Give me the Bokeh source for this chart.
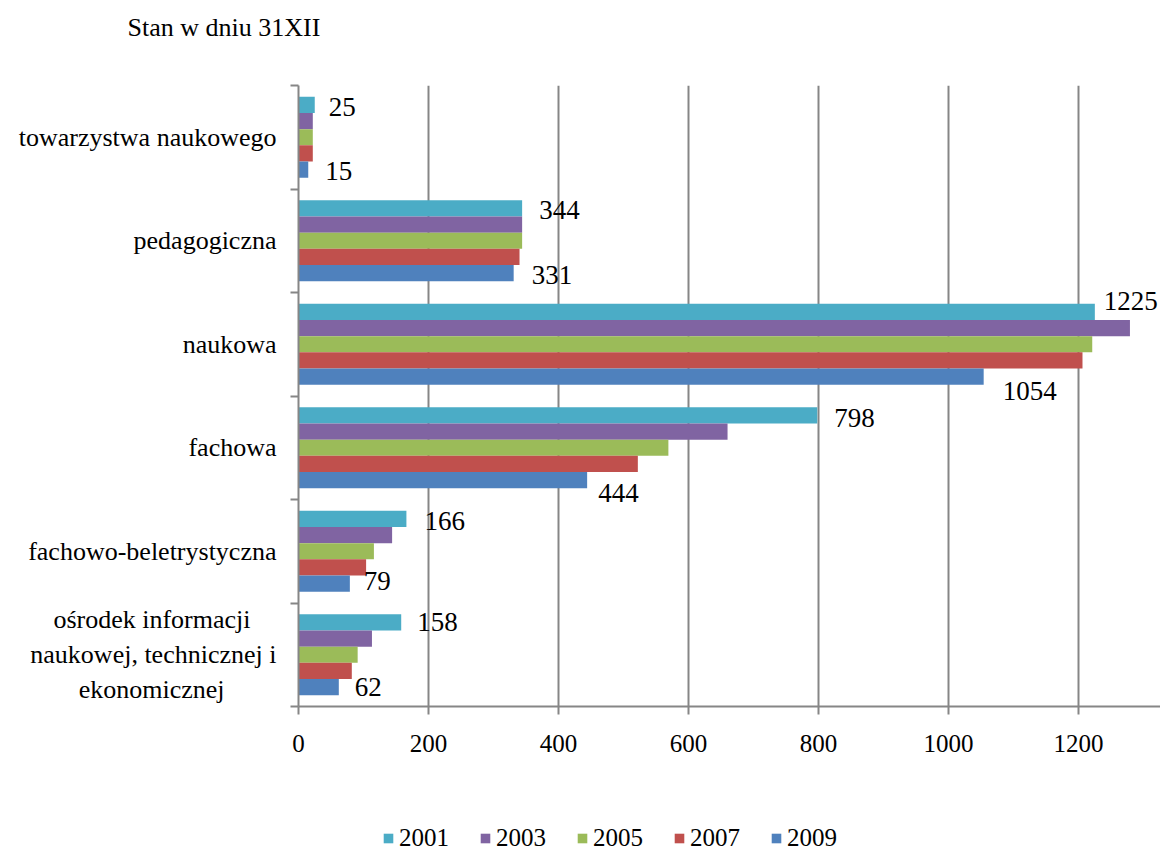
from bokeh.plotting import figure
from bokeh.layouts import column
from bokeh.models import (Range1d, Legend, LegendItem, FixedTicker,
                          ColumnDataSource, LinearAxis, Title)
from bokeh.core.properties import value
from bokeh.embed import file_html
from bokeh.resources import INLINE

NB = "\u00a0"
# ---- data (bottom category first) ----
categories = [
    "ośrodek informacji" + NB * 4 + "\nnaukowej, technicznej i\nekonomicznej" + NB * 8,
    "fachowo-beletrystyczna",
    "fachowa",
    "naukowa",
    "pedagogiczna",
    "towarzystwa naukowego",
]
years = ["2001", "2003", "2005", "2007", "2009"]
v2001 = [158, 166, 798, 1225, 344, 25]
v2003 = [113, 144, 660, 1279, 344, 22]
v2005 = [91, 116, 569, 1221, 344, 22]
v2007 = [82, 104, 522, 1206, 340, 22]
v2009 = [62, 79, 444, 1054, 331, 15]
series = [v2001, v2003, v2005, v2007, v2009]
x_ticks = [0, 200, 400, 600, 800, 1000, 1200]
title_text = "Stan w dniu 31XII"

# ---- styles ----
colors = ["#4BACC6", "#8064A2", "#9BBB59", "#C0504D", "#4F81BD"]
FONT = "Liberation Serif"
bar_h = 0.157
offsets = [2 * bar_h, bar_h, 0.0, -bar_h, -2 * bar_h]
lab2001_dx = [16, 18, 17, 9, 17, 14]
lab2001_dy = [0, 2, 3, -11, 2, 2]
lab2009_dx = [16, 14, 11, 19, 18, 17]
lab2009_dy = [0, -3, 13, 14, 2, 1]
grey = "#868686"

n = len(categories)
p = figure(width=1160, height=796, output_backend="svg", toolbar_location=None,
           x_range=Range1d(0, 1326), y_range=Range1d(0, n),
           min_border_left=298, min_border_right=0, min_border_top=85,
           min_border_bottom=90)
p.outline_line_color = None
p.background_fill_color = "white"

# real title (outer) and a blank spacer title between it and the frame
p.title.text = title_text
p.title.align = "left"
p.title.offset = -171
p.title.text_font = FONT
p.title.text_font_size = "26px"
p.title.text_font_style = "normal"
p.title.text_color = "black"
p.add_layout(Title(text=NB, text_font_size="24px"), "above")

ticker = FixedTicker(ticks=x_ticks)
p.xaxis.ticker = ticker
p.xgrid.ticker = ticker
p.xgrid.grid_line_color = grey
p.xgrid.grid_line_width = 2
p.ygrid.grid_line_color = None

xa = p.xaxis[0]
xa.axis_line_color = grey
xa.axis_line_width = 2
xa.major_tick_line_color = grey
xa.major_tick_line_width = 2
xa.major_tick_out = 8
xa.major_tick_in = 0
xa.minor_tick_line_color = None
xa.major_label_text_font = FONT
xa.major_label_text_font_size = "25px"
xa.major_label_text_color = "black"
xa.major_label_standoff = 20

bounds = list(range(n + 1))
ya = p.yaxis[0]
ya.ticker = FixedTicker(ticks=bounds)
ya.major_label_overrides = {b: "" for b in bounds}
ya.axis_line_color = grey
ya.axis_line_width = 2
ya.major_tick_line_color = grey
ya.major_tick_line_width = 2
ya.major_tick_out = 8
ya.major_tick_in = 0
ya.minor_tick_line_color = None
ya.major_label_standoff = 0

# category labels on their own axis (ticks at category centres)
centres = [i + 0.5 for i in range(n)]
ca = LinearAxis(ticker=FixedTicker(ticks=centres),
                major_label_overrides={c: name for c, name in zip(centres, categories)})
ca.axis_line_color = None
ca.major_tick_line_color = None
ca.minor_tick_line_color = None
ca.major_label_text_font = FONT
ca.major_label_text_font_size = "26px"
ca.major_label_text_color = "black"
ca.major_label_standoff = 8
p.add_layout(ca, "left")

renderers = []
for k, (yr, vals) in enumerate(zip(years, series)):
    ys = [i + 0.5 + offsets[k] for i in range(n)]
    src = ColumnDataSource(dict(y=ys, right=vals))
    r = p.hbar(y="y", right="right", left=0, height=bar_h, source=src,
               fill_color=colors[k], line_color=None)
    renderers.append(r)
    if k in (0, 4):
        dx = lab2001_dx if k == 0 else lab2009_dx
        dy = lab2001_dy if k == 0 else lab2009_dy
        tsrc = ColumnDataSource(dict(x=vals, y=ys, t=[str(v) for v in vals],
                                     dx=dx, dy=dy))
        p.text(x="x", y="y", text="t", x_offset="dx", y_offset="dy", source=tsrc,
               text_font=value(FONT), text_font_size="27px", text_color="black",
               text_align="left", text_baseline="middle")

# ---- legend strip below the chart (swatch renderers are zero-area, nothing drawn) ----
lp = figure(width=1160, height=56, output_backend="svg", toolbar_location=None,
            x_range=Range1d(0, 1), y_range=Range1d(0, 1), min_border=0,
            x_axis_type=None, y_axis_type=None)
lp.outline_line_color = None
legend_renderers = []
for k, yr in enumerate(years):
    rr = lp.hbar(y=[0.5], left=[0.0], right=[0.0], height=0,
                 fill_color=colors[k], line_color=None)
    legend_renderers.append(rr)
legend = Legend(items=[LegendItem(label=yr, renderers=[r]) for yr, r in zip(years, legend_renderers)],
                orientation="horizontal", location=(84, 0),
                glyph_width=12, glyph_height=12, label_standoff=5, spacing=30,
                padding=0, margin=0, border_line_color=None, background_fill_alpha=0,
                label_text_font=FONT, label_text_font_size="25px", label_text_color="black")
lp.add_layout(legend, "center")

layout = column(p, lp, spacing=0)
open("out.html", "w").write(file_html(layout, INLINE))
